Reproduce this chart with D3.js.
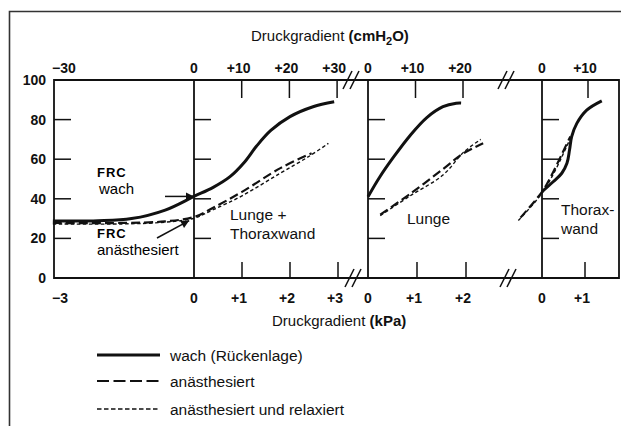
<!DOCTYPE html>
<html>
<head>
<meta charset="utf-8">
<script src="https://cdn.jsdelivr.net/npm/d3@7"></script>
<style>
    body { margin: 0; background: #fff; }
    svg { display: block; font-family: "Liberation Sans", Arial, Helvetica, sans-serif; }
</style>
</head>
<body>
<svg id="chart"></svg>
<script>
// volume axis (% of total lung capacity)
let yTicks = [0, 20, 40, 60, 80, 100];

// pressure ticks per panel: bottom in kPa, top in cmH2O
let kpaTicks = [[-3, 0, 1, 2, 3], [0, 1, 2], [0, 1]];
let cmTicks = [[-30, 0, 10, 20, 30], [0, 10, 20], [0, 10]];

// Lunge + Thoraxwand  [kPa, volume]
let wachGesamt = [[-2.94, 28.8], [-2.0, 28.9], [-1.3, 30], [-0.6, 34.3], [0, 41.2], [0.4, 45.8], [0.75, 51.2],
    [1.05, 58.5], [1.3, 66.5], [1.6, 74.5], [2.0, 81.5], [2.48, 86.5], [2.92, 89]];
let anaesGesamt = [[-2.94, 27.8], [-1.5, 27.8], [-0.6, 28.6], [0, 30.8], [0.4, 35.5], [1.0, 43.5], [1.8, 55.5], [2.45, 63]];
let relaxGesamt = [[-2.94, 27.3], [-1.5, 27.3], [-0.6, 28.2], [0, 30.2], [0.4, 34.5], [1.0, 41.5], [1.8, 53], [2.4, 61.5], [2.8, 68]];

// Lunge
let wachLunge = [[0, 41], [0.24, 51], [0.52, 61], [0.86, 72], [1.2, 81], [1.53, 86.5], [1.8, 88.3], [1.9, 88.4]];
let anaesLunge = [[0.25, 32], [0.86, 42.5], [1.53, 55], [1.95, 63], [2.35, 68]];
let relaxLunge = [[0.25, 31.5], [0.86, 41.5], [1.53, 52], [1.95, 63.5], [2.3, 70]];

// Thoraxwand
let wachWand = [[0, 43.6], [0.26, 48.6], [0.46, 52.9], [0.58, 57.9], [0.64, 64.6], [0.69, 71.4], [0.81, 78.1], [1.04, 84.8], [1.39, 89.5]];
let anaesWand = [[-0.5, 30.5], [0, 43.5], [0.2, 51], [0.45, 62], [0.66, 71.5]];
let relaxWand = [[-0.55, 29], [0, 42.8], [0.3, 54], [0.5, 63], [0.67, 71]];

let frcWach = 41.2;
let frcAnaes = 30.5;

let panelLabels = [["Lunge +", "Thoraxwand"], ["Lunge"], ["Thorax-", "wand"]];
let legendLabels = ["wach (Rückenlage)", "anästhesiert", "anästhesiert und relaxiert"];

let lungChart = function (options) {
    let self = {};

    for (let key in options) {
        self[key] = options[key];
    }

    self.dash = {
        wach: null,
        anaes: "9,4",
        relax: "3.5,2.5"
    };
    self.widths = { wach: 3, anaes: 2.2, relax: 1.4 };

    self.init = function () {
        self.svg = d3.select("#" + self.parent_id)
            .attr("width", self.width)
            .attr("height", self.height);

        self.svg.selectAll("*").remove();

        self.y = d3.scaleLinear().domain([0, 100]).range([self.bottom, self.top]);

        self.panels.forEach(function (p) {
            p.x = d3.scaleLinear().domain([0, 1]).range([p.x0, p.x0 + p.kpa]);
            p.xc = d3.scaleLinear().domain([0, 10]).range([p.x0, p.x0 + p.cm]);
        });

        self.g = self.svg.append("g");
    };

    let signed = function (v) {
        if (v > 0) return "+" + v;
        if (v < 0) return "\u2212" + (-v);
        return "0";
    };

    self.renderFrame = function () {
        let g = self.g;
        // outer frame
        g.append("path")
            .attr("d", "M9.5," + self.height + "V11.5H" + self.width)
            .style("fill", "none").style("stroke", "#333").style("stroke-width", 1.6);

        // box top/bottom and right border
        g.append("path")
            .attr("d", "M" + self.left + "," + self.top + "H" + self.right + "V" + self.bottom + "H" + self.left + "Z")
            .style("fill", "none").style("stroke", "#111").style("stroke-width", 1.8);

        // y labels
        g.append("g").selectAll("text")
            .data(yTicks)
            .enter()
            .append("text")
            .attr("x", self.left - 8)
            .attr("y", d => self.y(d))
            .attr("dy", "0.36em")
            .style("text-anchor", "end")
            .style("font-size", "14px")
            .style("font-weight", "bold")
            .style("fill", "#111")
            .text(d => d);

        self.panels.forEach(function (p, i) {
            let pg = g.append("g");
            // zero axis line
            pg.append("line")
                .attr("x1", p.x(0)).attr("x2", p.x(0))
                .attr("y1", self.top).attr("y2", self.bottom)
                .style("stroke", "#111").style("stroke-width", 1.8);

            // y ticks on axis
            let yt = yTicks.filter(d => d > 0 && d < 100);
            let ax = [p.x(0)];
            if (i === 0) ax.push(self.left);
            ax.forEach(function (xx) {
                pg.append("g").selectAll("line")
                    .data(yt)
                    .enter()
                    .append("line")
                    .attr("x1", xx).attr("x2", xx + 17)
                    .attr("y1", d => self.y(d)).attr("y2", d => self.y(d))
                    .style("stroke", "#111").style("stroke-width", 1.5);
            });

            // bottom ticks (kPa)
            pg.append("g").selectAll("line")
                .data(kpaTicks[i].filter(d => d > 0))
                .enter()
                .append("line")
                .attr("x1", d => p.x(d)).attr("x2", d => p.x(d))
                .attr("y1", self.bottom).attr("y2", self.bottom - 16)
                .style("stroke", "#111").style("stroke-width", 1.5);

            pg.append("g").selectAll("text")
                .data(kpaTicks[i])
                .enter()
                .append("text")
                .attr("x", d => d < 0 ? self.left - 2 : p.x(d))
                .attr("dx", d => d > 0 ? -3 : 0)
                .attr("y", self.bottom + 25)
                .style("text-anchor", d => d < 0 ? "start" : "middle")
                .style("font-size", "14px")
                .style("font-weight", "bold")
                .style("fill", "#111")
                .text(signed);

            // top ticks (cmH2O)
            pg.append("g").selectAll("line")
                .data(cmTicks[i].filter(d => d > 0))
                .enter()
                .append("line")
                .attr("x1", d => p.xc(d)).attr("x2", d => p.xc(d))
                .attr("y1", self.top).attr("y2", self.top + 18)
                .style("stroke", "#111").style("stroke-width", 1.5);

            pg.append("g").selectAll("text")
                .data(cmTicks[i])
                .enter()
                .append("text")
                .attr("x", d => d < 0 ? self.left - 2 : p.xc(d))
                .attr("dx", d => d > 0 ? -3 : 0)
                .attr("y", self.top - 7.5)
                .style("text-anchor", d => d < 0 ? "start" : "middle")
                .style("font-size", "14px")
                .style("font-weight", "bold")
                .style("fill", "#111")
                .text(signed);
        });

        // axis breaks
        self.breaks.forEach(function (b) {
            [self.top, self.bottom].forEach(function (yy, k) {
                let cx = b + (k === 1 ? 2 : 0);
                [-3.5, 3.5].forEach(function (o) {
                    g.append("line")
                        .attr("x1", cx + o - 4.5).attr("y1", yy + 9)
                        .attr("x2", cx + o + 4.5).attr("y2", yy - 9)
                        .style("stroke", "#111").style("stroke-width", 1.5);
                });
            });
        });

        // axis titles
        let t1 = g.append("text")
            .attr("x", 251).attr("y", 41)
            .style("font-size", "15px")
            .style("fill", "#111");
        t1.append("tspan").text("Druckgradient ");
        t1.append("tspan").style("font-weight", "bold").text("(cmH");
        t1.append("tspan").style("font-weight", "bold").style("font-size", "11px").attr("dy", 4).text("2");
        t1.append("tspan").style("font-weight", "bold").attr("dy", -4).text("O)");

        let t2 = g.append("text")
            .attr("x", 272).attr("y", 326)
            .style("font-size", "15px")
            .style("fill", "#111");
        t2.append("tspan").text("Druckgradient ");
        t2.append("tspan").style("font-weight", "bold").text("(kPa)");
    };

    self.renderCurves = function () {
        let curves = [
            [wachGesamt, anaesGesamt, relaxGesamt],
            [wachLunge, anaesLunge, relaxLunge],
            [wachWand, anaesWand, relaxWand]
        ];
        let kinds = ["relax", "anaes", "wach"];

        self.panels.forEach(function (p, i) {
            let line = d3.line()
                .x(d => p.x(d[0]))
                .y(d => self.y(d[1]))
                .curve(d3.curveCatmullRom.alpha(0.5));

            kinds.forEach(function (k) {
                let data = curves[i][k === "wach" ? 0 : (k === "anaes" ? 1 : 2)];
                self.g.append("path")
                    .datum(data)
                    .attr("d", line)
                    .style("fill", "none")
                    .style("stroke", "#111")
                    .style("stroke-width", self.widths[k])
                    .style("stroke-linecap", "butt")
                    .style("stroke-linejoin", "round")
                    .style("stroke-dasharray", self.dash[k]);
            });
        });
    };

    self.renderLabels = function () {
        let g = self.g;
        let p0 = self.panels[0];

        self.svg.append("defs").append("marker")
            .attr("id", "head")
            .attr("viewBox", "0 0 10 10")
            .attr("refX", 10).attr("refY", 5)
            .attr("markerWidth", 12).attr("markerHeight", 8)
            .attr("markerUnits", "userSpaceOnUse")
            .attr("orient", "auto")
            .append("path")
            .attr("d", "M0,0L10,5L0,10Z")
            .style("fill", "#111");

        // FRC wach
        g.append("text").attr("x", 97).attr("y", 177)
            .style("font-size", "13px").style("font-weight", "bold").style("letter-spacing", "1px")
            .text("FRC");
        g.append("text").attr("x", 99).attr("y", 193.5)
            .style("font-size", "15px")
            .text("wach");
        g.append("line")
            .attr("x1", 165).attr("y1", self.y(frcWach))
            .attr("x2", p0.x(0)).attr("y2", self.y(frcWach))
            .style("stroke", "#111").style("stroke-width", 1.5)
            .attr("marker-end", "url(#head)");

        // FRC anaesthesiert
        g.append("text").attr("x", 97).attr("y", 238)
            .style("font-size", "13px").style("font-weight", "bold").style("letter-spacing", "1px")
            .text("FRC");
        g.append("text").attr("x", 97).attr("y", 255)
            .style("font-size", "15px")
            .text("anästhesiert");
        g.append("line")
            .attr("x1", 157).attr("y1", 238)
            .attr("x2", p0.x(-0.1)).attr("y2", self.y(frcAnaes) + 3)
            .style("stroke", "#111").style("stroke-width", 1.5)
            .attr("marker-end", "url(#head)");

        // panel names
        let pos = [[230, 220], [407, 224], [561, 215]];
        panelLabels.forEach(function (lines, i) {
            g.append("g").selectAll("text")
                .data(lines)
                .enter()
                .append("text")
                .attr("x", pos[i][0])
                .attr("y", (d, j) => pos[i][1] + j * 19)
                .style("font-size", "15.5px")
                .style("fill", "#111")
                .text(d => d);
        });

        // legend
        let kinds = ["wach", "anaes", "relax"];
        let ly = [355, 381, 409];
        let lg = g.append("g");
        lg.selectAll("line")
            .data(kinds)
            .enter()
            .append("line")
            .attr("x1", 97).attr("x2", 160)
            .attr("y1", (d, i) => ly[i]).attr("y2", (d, i) => ly[i])
            .style("stroke", "#111")
            .style("stroke-width", d => d === "wach" ? 3 : (d === "anaes" ? 2 : 1.5))
            .style("stroke-dasharray", d => d === "anaes" ? "12,4.5" : (d === "relax" ? "4.5,2.5" : null));
        lg.selectAll("text")
            .data(legendLabels)
            .enter()
            .append("text")
            .attr("x", 170)
            .attr("y", (d, i) => ly[i])
            .attr("dy", "0.36em")
            .style("font-size", "15.5px")
            .style("fill", "#111")
            .text(d => d);
    };

    self.init();
    self.renderFrame();
    self.renderCurves();
    self.renderLabels();
    return self;
};

lungChart({
    parent_id: "chart",
    width: 621,
    height: 426,
    top: 80,
    bottom: 278,
    left: 54,
    right: 619,
    breaks: [351, 506],
    panels: [
        { x0: 194, kpa: 48, cm: 47.7 },
        { x0: 368, kpa: 49, cm: 47.5 },
        { x0: 542, kpa: 43, cm: 46 }
    ]
});
</script>
</body>
</html>
